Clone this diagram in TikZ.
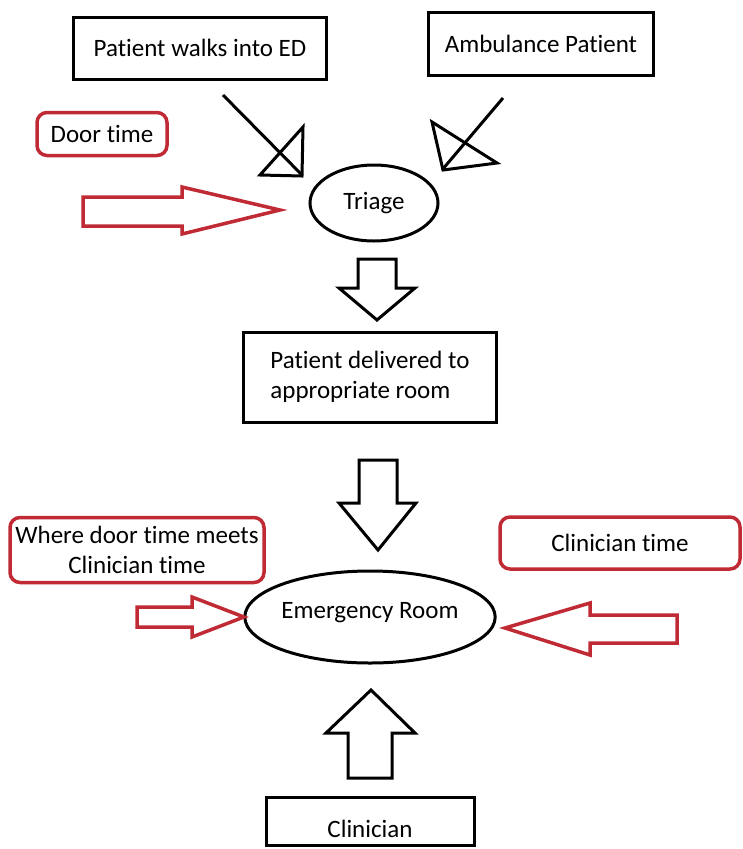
\documentclass[tikz,border=0pt]{standalone}
\usepackage{fontspec}
\setmainfont[Ligatures=NoCommon]{Carlito}
\usetikzlibrary{shapes.geometric}
\definecolor{cred}{RGB}{192,42,52}

\begin{document}
\begin{tikzpicture}[
    x=1pt, y=-1pt,
    every node/.style={font=\fontsize{25}{30}\selectfont},
    box/.style={draw, line width=3pt, inner sep=0pt},
    oval/.style={draw, ellipse, line width=3pt, inner sep=0pt},
    note/.style={draw=cred, line width=3.5pt, rounded corners=10pt, inner sep=0pt, align=center},
    blockarrow/.style={draw, line width=3pt, line join=miter},
    redarrow/.style={draw=cred, line width=3.5pt, line join=miter},
    thinline/.style={line width=3pt},
]
    \useasboundingbox (0,0) rectangle (742,849);

    % Arrivals
    \node[box, minimum width=253pt, minimum height=62pt] (walkin) at (200,48) {Patient walks into ED};
    \node[box, minimum width=225pt, minimum height=63pt] (ambulance) at (541,44) {Ambulance Patient};

    % Door time label
    \node[note, minimum width=130pt, minimum height=43pt] (doortime) at (102,134) {Door time};

    % Triage
    \node[oval, minimum width=128pt, minimum height=76pt] (triage) at (374,203) {Triage};

    % Room
    \node[box, minimum width=253pt, minimum height=90pt, align=left] (delivered) at (370,377) {Patient delivered to\\appropriate room};

    % Time labels
    \node[note, minimum width=254pt, minimum height=65pt] (meets) at (137,550) {Where door time meets\\Clinician time};
    \node[note, minimum width=240pt, minimum height=52pt] (clintime) at (620,543) {Clinician time};

    % Emergency room
    \node[oval, minimum width=230pt, minimum height=92pt, text depth=14pt] (er) at (370,617) {Emergency Room};

    % Clinician
    \node[box, minimum width=208pt, minimum height=48pt, text height=34pt] (clinician) at (370,821) {Clinician};

    % Hand drawn arrows into triage
    \coordinate (walkin tail) at (223,95);
    \coordinate (walkin tip) at (302,175);
    \coordinate (ambulance tail) at (503,98);
    \coordinate (ambulance tip) at (442,170);
    \draw[thinline] (walkin tail) -- (walkin tip);
    \draw[thinline] (260,175) -- (302,176) -- (303,127) -- cycle;
    \draw[thinline] (ambulance tail) -- (ambulance tip);
    \draw[thinline] (432,122) -- (443,170) -- (497,163) -- cycle;

    % Block arrows
    \draw[blockarrow] (358,259) -- (396,259) -- (396,288) -- (415,288) -- (377,320) -- (339,288) -- (358,288) -- cycle;
    \draw[blockarrow] (359,460) -- (397,460) -- (397,503) -- (416,503) -- (378,550) -- (339,503) -- (359,503) -- cycle;
    \draw[blockarrow] (348,778) -- (392,778) -- (392,733) -- (415,733) -- (371,690) -- (326,733) -- (348,733) -- cycle;

    % Red arrows
    \draw[redarrow] (83,197) -- (182,197) -- (182,187) -- (280,210) -- (182,234) -- (182,226) -- (83,226) -- cycle;
    \draw[redarrow] (137,607) -- (192,607) -- (192,597) -- (244,617) -- (192,637) -- (192,627) -- (137,627) -- cycle;
    \draw[redarrow] (677,615) -- (590,615) -- (590,603) -- (505,628) -- (590,655) -- (590,643) -- (677,643) -- cycle;
\end{tikzpicture}
\end{document}
